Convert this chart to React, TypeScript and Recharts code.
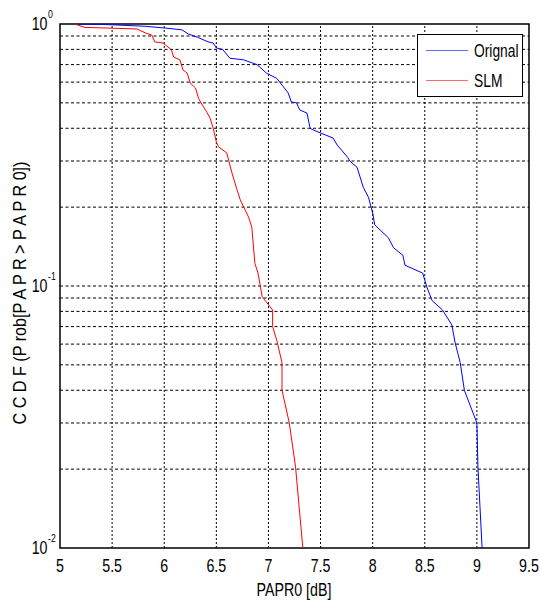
import React from 'react';
import { LineChart, Line, XAxis, YAxis, ReferenceLine, ReferenceArea, Legend } from 'recharts';

const FONT = "'Liberation Sans', Arial, sans-serif";
const NARROW = 0.79;

const originalX = [5.14, 5.45, 5.82, 6.01, 6.17, 6.23, 6.32, 6.42, 6.47, 6.5, 6.56, 6.63, 6.76, 6.89, 6.98, 7.08, 7.13, 7.19, 7.22, 7.27, 7.3, 7.37, 7.4, 7.43, 7.62, 7.66, 7.76, 7.78, 7.85, 7.91, 7.96, 8.0, 8.02, 8.15, 8.2, 8.29, 8.31, 8.48, 8.52, 8.57, 8.67, 8.76, 8.79, 8.84, 8.88, 9.0, 9.01, 9.05];
const originalP = [1.0, 0.995, 0.98, 0.965, 0.95, 0.916, 0.89, 0.855, 0.846, 0.81, 0.8, 0.74, 0.73, 0.7, 0.65, 0.62, 0.585, 0.545, 0.504, 0.5, 0.47, 0.457, 0.4, 0.394, 0.367, 0.345, 0.31, 0.3, 0.284, 0.238, 0.218, 0.19, 0.171, 0.153, 0.14, 0.131, 0.12, 0.112, 0.099, 0.088, 0.081, 0.071, 0.061, 0.051, 0.04, 0.03, 0.0204, 0.01];

const slmX = [5.14, 5.24, 5.46, 5.74, 5.82, 5.88, 5.91, 5.99, 6.07, 6.09, 6.15, 6.18, 6.22, 6.25, 6.3, 6.33, 6.36, 6.41, 6.44, 6.47, 6.5, 6.52, 6.6, 6.65, 6.7, 6.73, 6.81, 6.84, 6.87, 6.9, 6.94, 7.04, 7.04, 7.08, 7.13, 7.13, 7.2, 7.26, 7.33];
const slmP = [1.0, 0.97, 0.965, 0.957, 0.924, 0.908, 0.854, 0.846, 0.796, 0.748, 0.73, 0.668, 0.65, 0.595, 0.57, 0.52, 0.495, 0.46, 0.437, 0.4, 0.355, 0.34, 0.322, 0.27, 0.232, 0.213, 0.183, 0.168, 0.122, 0.112, 0.091, 0.081, 0.07, 0.062, 0.051, 0.04, 0.03, 0.0204, 0.01];

const xTicks = [5, 5.5, 6, 6.5, 7, 7.5, 8, 8.5, 9, 9.5];
const xTickLabels = ['5', '5.5', '6', '6.5', '7', '7.5', '8', '8.5', '9', '9.5'];
const yTicks = [0.01, 0.1, 1];
const yTickExponents = ['-2', '-1', '0'];
const yGridValues = [0.02, 0.03, 0.04, 0.05, 0.06, 0.07, 0.08, 0.09, 0.1, 0.2, 0.3, 0.4, 0.5, 0.6, 0.7, 0.8, 0.9];
const xGridValues = [5.5, 6, 6.5, 7, 7.5, 8, 8.5, 9];

const seriesNames = ['Orignal', 'SLM'];
const seriesColors = ['#0000ff', '#ff0000'];
const legendLineColors = ['#6a6aff', '#ff6a6a'];

const originalData = originalX.map((x, i) => ({ x, p: originalP[i] }));
const slmData = slmX.map((x, i) => ({ x, p: slmP[i] }));

const NText = ({ x, y, size, anchor, children }: any) => (
  <text
    x={0}
    y={0}
    transform={`translate(${x},${y}) scale(${NARROW},1)`}
    textAnchor={anchor || 'start'}
    fontFamily={FONT}
    fontSize={size}
    fill="#000"
  >
    {children}
  </text>
);

const XTick = (props: any) => {
  const { x, y, payload } = props;
  const idx = xTicks.indexOf(payload.value);
  return (
    <NText x={x} y={y + 24} size={18} anchor="middle">
      {idx >= 0 ? xTickLabels[idx] : payload.value}
    </NText>
  );
};

const YTick = (props: any) => {
  const { x, y, payload } = props;
  const idx = yTicks.indexOf(payload.value);
  return (
    <g>
      <NText x={x - 12.5} y={y + 6} size={18} anchor="end">10</NText>
      <NText x={x - 12} y={y - 6} size={11} anchor="start">{yTickExponents[idx]}</NText>
    </g>
  );
};

const renderLegend = () => (
  <div
    style={{
      position: 'relative',
      width: 104,
      height: 61,
      border: '1.5px solid #000',
      background: '#fff',
      boxSizing: 'content-box',
    }}
  >
    {seriesNames.map((name, i) => (
      <div key={name}>
        <div
          style={{
            position: 'absolute',
            left: 8,
            top: 15 + i * 30,
            width: 42,
            height: 0,
            borderTop: `1px solid ${legendLineColors[i]}`,
          }}
        />
        <svg style={{ position: 'absolute', left: 0, top: 0 }} width={104} height={61}>
          <NText x={56} y={22 + i * 30} size={17.5}>{name}</NText>
        </svg>
      </div>
    ))}
  </div>
);

export default function App() {
  return (
    <div style={{ position: 'absolute', left: 0, top: 0, width: 540, height: 603, background: '#fff' }}>
      <LineChart width={540} height={603} margin={{ top: 24, right: 11, left: 0, bottom: 0 }}>
        <XAxis
          type="number"
          dataKey="x"
          domain={[5, 9.5]}
          ticks={xTicks}
          tick={<XTick />}
          tickSize={0}
          tickMargin={0}
          axisLine={false}
          height={55}
          allowDataOverflow
          label={{
            content: () => (
              <NText x={294} y={596} size={18} anchor="middle">PAPR0 [dB]</NText>
            ),
          }}
        />
        <YAxis
          type="number"
          scale="log"
          dataKey="p"
          domain={[0.01, 1]}
          ticks={yTicks}
          tick={<YTick />}
          tickSize={0}
          tickMargin={0}
          axisLine={false}
          width={60}
          allowDataOverflow
          label={{
            content: () => (
              <text
                x={0}
                y={0}
                transform="translate(26,293) rotate(-90)"
                textAnchor="middle"
                fontFamily={FONT}
                fontSize={18}
                textLength={263}
                lengthAdjust="spacingAndGlyphs"
                fill="#000"
              >
                C C D F  (P rob[P A P R &gt; P A P R 0])
              </text>
            ),
          }}
        />
        {yGridValues.map((v) => (
          <ReferenceLine key={'h' + v} y={v} stroke="#000" strokeWidth={1} strokeDasharray="3 2.5" />
        ))}
        {xGridValues.map((v) => (
          <ReferenceLine key={'v' + v} x={v} stroke="#000" strokeWidth={1} strokeDasharray="2 2" />
        ))}
        <ReferenceArea x1={5} x2={9.5} y1={0.01} y2={1} fill="none" fillOpacity={0} stroke="#000" strokeWidth={1.5} />
        <Line
          data={originalData}
          dataKey="p"
          name={seriesNames[0]}
          stroke={seriesColors[0]}
          strokeWidth={1}
          dot={false}
          type="linear"
          isAnimationActive={false}
        />
        <Line
          data={slmData}
          dataKey="p"
          name={seriesNames[1]}
          stroke={seriesColors[1]}
          strokeWidth={1}
          dot={false}
          type="linear"
          isAnimationActive={false}
        />
        <Legend
          layout="horizontal"
          verticalAlign="middle"
          align="center"
          content={renderLegend}
          wrapperStyle={{ position: 'absolute', left: 417, top: 34, width: 107, height: 64 }}
        />
      </LineChart>
    </div>
  );
}
